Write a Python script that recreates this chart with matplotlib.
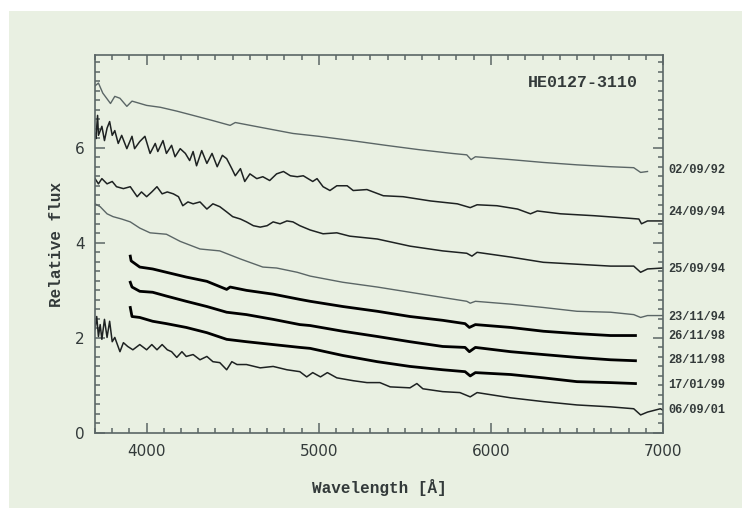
import matplotlib
matplotlib.use("Agg")
import matplotlib.pyplot as plt
from matplotlib.patches import Rectangle
from matplotlib.ticker import MultipleLocator
import matplotlib.transforms as mtransforms

# spectra (wavelength in A, relative flux)
wl_920902 = [3700, 3720, 3745, 3790, 3815, 3845, 3885, 3915, 4000, 4080, 4175, 4270, 4385, 4485, 4515,
             4660, 4850, 5000, 5190, 5390, 5580, 5775, 5860, 5885, 5910, 6115, 6305, 6500, 6695, 6830,
             6870, 6910]
fx_920902 = [7.30, 7.36, 7.15, 6.93, 7.08, 7.04, 6.87, 6.98, 6.89, 6.85, 6.77, 6.68, 6.57, 6.47, 6.53,
             6.43, 6.30, 6.24, 6.15, 6.05, 5.96, 5.88, 5.85, 5.75, 5.81, 5.75, 5.69, 5.64, 5.60, 5.58,
             5.48, 5.50]

wl_940924 = [3700, 3705, 3715, 3720, 3740, 3755, 3770, 3785, 3800, 3815, 3835, 3855, 3885, 3915, 3930,
             3960, 3990, 4020, 4050, 4065, 4095, 4115, 4145, 4165, 4195, 4225, 4250, 4270, 4290, 4320,
             4350, 4380, 4410, 4440, 4465, 4495, 4515, 4545, 4570, 4600, 4640, 4675, 4715, 4755, 4795,
             4835, 4875, 4910, 4965, 4990, 5025, 5065, 5105, 5165, 5200, 5280, 5375, 5490, 5650, 5805,
             5880, 5920, 6035, 6155, 6230, 6270, 6405, 6600, 6790, 6860, 6875, 6910, 7000]
fx_940924 = [6.30, 6.19, 6.68, 6.26, 6.45, 6.15, 6.41, 6.55, 6.26, 6.36, 6.09, 6.26, 5.98, 6.24, 5.98,
             6.13, 6.24, 5.88, 6.09, 5.92, 6.15, 5.88, 6.05, 5.81, 5.98, 5.88, 5.73, 5.92, 5.62, 5.94,
             5.67, 5.88, 5.60, 5.84, 5.77, 5.56, 5.41, 5.56, 5.29, 5.45, 5.35, 5.39, 5.31, 5.45, 5.50,
             5.41, 5.39, 5.41, 5.29, 5.35, 5.18, 5.10, 5.20, 5.20, 5.10, 5.12, 4.99, 4.97, 4.88, 4.82,
             4.74, 4.80, 4.78, 4.71, 4.61, 4.67, 4.61, 4.57, 4.52, 4.50, 4.40, 4.46, 4.46]

wl_940925 = [3700, 3720, 3740, 3770, 3800, 3825, 3865, 3905, 3945, 3970, 4000, 4030, 4060, 4090, 4120,
             4155, 4185, 4210, 4240, 4270, 4310, 4350, 4385, 4425, 4465, 4500, 4545, 4580, 4620, 4660,
             4700, 4735, 4775, 4815, 4850, 4890, 4950, 5025, 5105, 5180, 5340, 5530, 5720, 5860, 5890,
             5920, 6115, 6305, 6500, 6695, 6830, 6870, 6910, 7000]
fx_940925 = [5.35, 5.24, 5.35, 5.24, 5.29, 5.18, 5.14, 5.18, 4.97, 5.07, 4.97, 5.07, 5.18, 5.03, 5.07,
             5.03, 4.97, 4.78, 4.86, 4.82, 4.86, 4.71, 4.82, 4.76, 4.65, 4.55, 4.50, 4.44, 4.36, 4.33,
             4.36, 4.44, 4.40, 4.46, 4.44, 4.36, 4.27, 4.19, 4.21, 4.14, 4.08, 3.93, 3.83, 3.78, 3.72,
             3.80, 3.70, 3.59, 3.55, 3.51, 3.51, 3.38, 3.45, 3.47]

wl_941123 = [3700, 3730, 3770, 3805, 3855, 3905, 3960, 4020, 4115, 4195, 4310, 4425, 4545, 4675, 4755,
             4875, 4950, 5140, 5340, 5530, 5720, 5860, 5880, 5910, 6115, 6305, 6500, 6695, 6830, 6870,
             6910, 7000]
fx_941123 = [4.82, 4.76, 4.61, 4.55, 4.50, 4.44, 4.31, 4.21, 4.18, 4.03, 3.87, 3.83, 3.66, 3.49, 3.47,
             3.38, 3.30, 3.17, 3.07, 2.96, 2.85, 2.77, 2.73, 2.77, 2.71, 2.64, 2.56, 2.54, 2.49, 2.43,
             2.47, 2.47]

wl_981126 = [3905, 3910, 3960, 4035, 4115, 4230, 4350, 4465, 4485, 4580, 4735, 4890, 4950, 5140, 5340,
             5530, 5720, 5850, 5875, 5910, 6115, 6305, 6500, 6695, 6840]
fx_981126 = [3.72, 3.62, 3.49, 3.45, 3.38, 3.28, 3.19, 3.02, 3.07, 3.00, 2.92, 2.81, 2.77, 2.66, 2.56,
             2.45, 2.37, 2.30, 2.22, 2.28, 2.22, 2.14, 2.09, 2.05, 2.05]

wl_981128 = [3905, 3915, 3960, 4035, 4115, 4230, 4350, 4465, 4580, 4735, 4890, 4950, 5140, 5340, 5530,
             5720, 5850, 5875, 5910, 6115, 6305, 6500, 6695, 6840]
fx_981128 = [3.17, 3.07, 2.98, 2.96, 2.88, 2.77, 2.66, 2.54, 2.49, 2.39, 2.28, 2.26, 2.14, 2.03, 1.92,
             1.82, 1.80, 1.71, 1.80, 1.71, 1.65, 1.59, 1.54, 1.52]

wl_990117 = [3905, 3915, 3960, 4035, 4115, 4230, 4350, 4465, 4580, 4735, 4890, 4950, 5140, 5340, 5530,
             5720, 5850, 5880, 5910, 6115, 6305, 6500, 6695, 6840]
fx_990117 = [2.64, 2.45, 2.43, 2.35, 2.30, 2.22, 2.11, 1.97, 1.92, 1.86, 1.80, 1.78, 1.63, 1.50, 1.40,
             1.33, 1.29, 1.20, 1.27, 1.23, 1.16, 1.08, 1.06, 1.04]

wl_010906 = [3700, 3710, 3720, 3730, 3740, 3755, 3770, 3785, 3800, 3815, 3845, 3865, 3890, 3920, 3960,
             4000, 4030, 4060, 4090, 4120, 4145, 4175, 4205, 4230, 4270, 4310, 4350, 4385, 4425, 4465,
             4495, 4525, 4580, 4660, 4735, 4815, 4890, 4930, 4965, 5010, 5050, 5105, 5200, 5280, 5355,
             5415, 5530, 5570, 5605, 5720, 5820, 5880, 5920, 6115, 6305, 6500, 6695, 6830, 6870, 6910,
             6985, 7000]
fx_010906 = [2.18, 2.45, 2.03, 2.28, 1.97, 2.39, 2.01, 2.35, 1.92, 2.01, 1.71, 1.90, 1.82, 1.75, 1.86,
             1.75, 1.86, 1.75, 1.86, 1.75, 1.71, 1.59, 1.71, 1.61, 1.65, 1.54, 1.61, 1.50, 1.48, 1.33,
             1.50, 1.44, 1.44, 1.37, 1.40, 1.33, 1.29, 1.18, 1.27, 1.18, 1.27, 1.16, 1.10, 1.06, 1.06,
             0.97, 0.95, 1.04, 0.93, 0.87, 0.85, 0.76, 0.85, 0.74, 0.66, 0.59, 0.55, 0.51, 0.38, 0.44,
             0.51, 0.48]

dates = ["02/09/92", "24/09/94", "25/09/94", "23/11/94", "26/11/98", "28/11/98", "17/01/99", "06/09/01"]
date_y = [5.54, 4.65, 3.45, 2.45, 2.03, 1.54, 1.01, 0.49]

green = "#e9f0e2"
grey = "#5b6666"
dark = "#1e2222"

fig = plt.figure(figsize=(7.42, 5.08), dpi=100, facecolor="white")
# light green panel, white margin at top and left (drawn below the axes)
fig.add_artist(Rectangle((9 / 742, 0), 1, 1 - 11 / 508, transform=fig.transFigure,
                         facecolor=green, edgecolor="none", zorder=-10))

ax = fig.add_axes([95 / 742, 75 / 508, 568 / 742, 378 / 508])
ax.set_facecolor("none")

spectra = [
    (wl_920902, fx_920902, grey, 1.0),
    (wl_940924, fx_940924, dark, 1.1),
    (wl_940925, fx_940925, dark, 1.1),
    (wl_941123, fx_941123, grey, 1.0),
    (wl_981126, fx_981126, "black", 2.0),
    (wl_981128, fx_981128, "black", 2.0),
    (wl_990117, fx_990117, "black", 2.0),
    (wl_010906, fx_010906, dark, 1.1),
]
for wl, fx, col, lw in spectra:
    ax.plot(wl, fx, color=col, lw=lw)

ax.set_xlim(3700, 7000)
ax.set_ylim(0, 7.95)
ax.xaxis.set_major_locator(MultipleLocator(1000))
ax.xaxis.set_minor_locator(MultipleLocator(100))
ax.yaxis.set_major_locator(MultipleLocator(2))
ax.yaxis.set_minor_locator(MultipleLocator(0.2))
ax.tick_params(which="both", direction="in", top=True, right=True, color=grey, width=1.1,
               labelsize=11, labelcolor="#333a3a")
ax.tick_params(which="major", length=7)
ax.tick_params(which="minor", length=3.5)
ax.tick_params(axis="x", which="major", pad=8)
ax.tick_params(axis="y", which="major", pad=7.5)
for s in ax.spines.values():
    s.set_color(grey)
    s.set_linewidth(1.2)

mono = "Liberation Mono"
ax.set_xlabel("Wavelength [Å]", family=mono, fontsize=11.5, fontweight="bold", color="#333a3a", labelpad=14)
ax.set_ylabel("Relative flux", family=mono, fontsize=11.5, fontweight="bold", color="#333a3a", labelpad=8)

trans = mtransforms.blended_transform_factory(ax.transAxes, ax.transData)
ax.text(0.956, 7.37, "HE0127-3110", transform=trans, family=mono, fontsize=12, fontweight="bold",
        color="#333a3a", ha="right", va="center")

for d, y in zip(dates, date_y):
    ax.text(1.009, y, d, transform=trans, family=mono, fontsize=8.6, fontweight="bold",
            color="#333a3a", ha="left", va="center", clip_on=False)

fig.savefig("out.png", dpi=100, facecolor=fig.get_facecolor())
